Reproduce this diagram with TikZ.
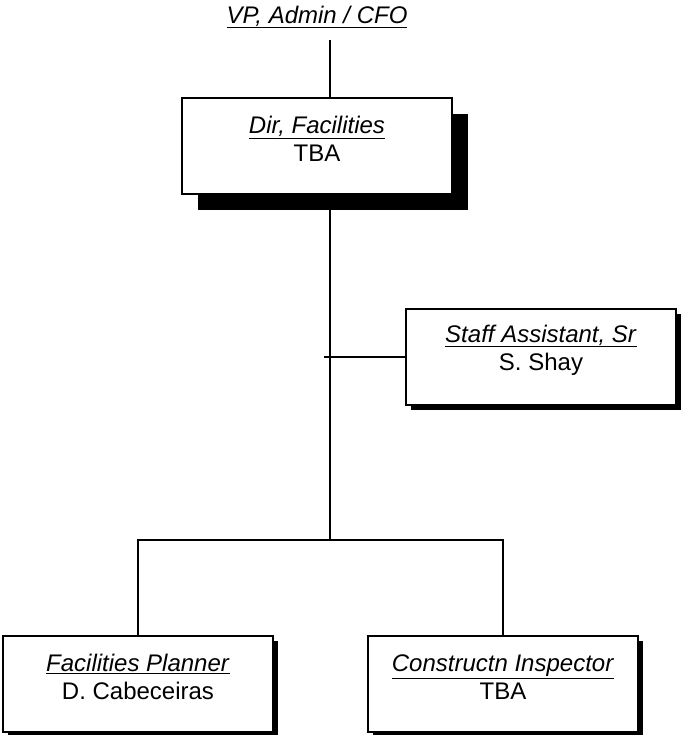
\documentclass[tikz,border=0pt]{standalone}
\usepackage{fontspec}
\setmainfont{Liberation Sans}
\usetikzlibrary{positioning, shadows, backgrounds}
\tikzset{link/.style={line width=2pt}}
\tikzset{job/.style={draw, line width=1.5pt, fill=white, minimum width=270pt, minimum height=96pt, inner sep=0pt}}
\tikzset{jobtext/.style={yshift=7pt, align=center, inner sep=0pt, font=\fontsize{24}{28}\selectfont}}
\tikzset{bigshadow/.style={drop shadow={shadow xshift=16pt, shadow yshift=-16pt, fill=black, opacity=1}}}
\tikzset{smallshadow/.style={drop shadow={shadow xshift=5pt, shadow yshift=-5pt, fill=black, opacity=1}}}
\newcommand{\jobtitle}[2]{\underline{\textit{#1}}\\#2}

\begin{document}
\begin{tikzpicture}[x=1pt, y=-1pt]
  \useasboundingbox (0,0) rectangle (680,735);

  \node[jobtext, yshift=-7pt] (vp) at (317,17) {\underline{\textit{VP, Admin / CFO}}};
  \node[job, bigshadow] (dir) at (317,146) [label={[jobtext]center:\jobtitle{Dir, Facilities}{TBA}}] {};
  \node[job, smallshadow] (staff) at (541,357) [label={[jobtext]center:\jobtitle{Staff Assistant, Sr}{S. Shay}}] {};
  \node[job, smallshadow] (planner) at (138,684) [label={[jobtext]center:\jobtitle{Facilities Planner}{D. Cabeceiras}}] {};
  \node[job, smallshadow] (inspector) at (503,684) [label={[jobtext]center:\jobtitle{Constructn Inspector}{TBA}}] {};

  \coordinate (spine) at (330,40);
  \coordinate (split) at (330,540);
  \coordinate (tick) at (324,357);

  \begin{scope}[on background layer]
    \draw[link] (spine) -- (split);
    \draw[link] (tick) -- (staff.west);
    \draw[link] (planner.north) |- (split) -| (inspector.north);
  \end{scope}

\end{tikzpicture}
\end{document}
